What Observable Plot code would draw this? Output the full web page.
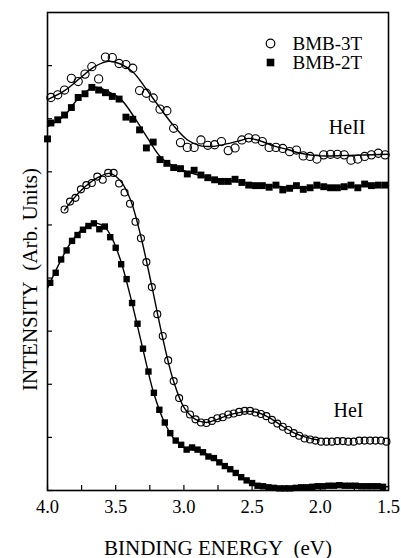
<!DOCTYPE html>
<html><head><meta charset="utf-8">
<script src="https://cdn.jsdelivr.net/npm/d3@7"></script>
<script src="https://cdn.jsdelivr.net/npm/@observablehq/plot@0.6"></script>
<style>
body{margin:0;background:#fff;}
#chart{width:401px;height:558px;}
</style></head><body><div id="chart"></div>
<script>
// ---- axis ticks ----
const xTicks = [4.0,3.75,3.5,3.25,3.0,2.75,2.5,2.25,2.0,1.75,1.5];
const xTickLabels = [4.0,3.5,3.0,2.5,2.0,1.5];
const yTicks = [0,1,2,3,4,5,6,7,8];
const xTitle = "BINDING ENERGY\u00a0 (eV)";
const yTitle = "INTENSITY\u00a0 (Arb. Units)";
const legendLabels = ["BMB-3T","BMB-2T"];
const sourceLabels = ["HeII","HeI"];

// ---- HeII, BMB-3T (open circles) ----
const heII3T_x = [3.975,3.925,3.875,3.825,3.775,3.725,3.675,3.625,3.575,3.525,3.475,3.425,3.375,3.325,3.275,3.225,3.175,3.125,3.075,3.025,2.975,2.925,2.875,2.825,2.775,2.725,2.675,2.625,2.575,2.525,2.475,2.425,2.375,2.325,2.275,2.225,2.175,2.125,2.075,2.025,1.975,1.925,1.875,1.825,1.775,1.725,1.675,1.625,1.575,1.525];
const heII3T_y = [7.40,7.45,7.54,7.76,7.70,7.84,7.98,7.75,8.16,8.15,8.04,8.02,7.95,7.53,7.48,7.39,7.18,7.15,6.82,6.55,6.46,6.46,6.60,6.50,6.51,6.57,6.40,6.45,6.60,6.64,6.62,6.57,6.46,6.46,6.44,6.38,6.41,6.30,6.29,6.24,6.32,6.33,6.33,6.32,6.22,6.24,6.29,6.32,6.35,6.32];
const heII3T_fitX = [4.0,3.875,3.758,3.655,3.553,3.465,3.37,3.274,3.171,3.076,2.973,2.878,2.783,2.68,2.585,2.526,2.438,2.343,2.24,2.145,1.999,1.80,1.5];
const heII3T_fitY = [7.36,7.53,7.77,7.98,8.08,8.03,7.87,7.55,7.19,6.87,6.60,6.49,6.48,6.53,6.59,6.63,6.58,6.49,6.42,6.35,6.30,6.31,6.33];

// ---- HeII, BMB-2T (filled squares) ----
const heII2T_x = [4.0,3.975,3.925,3.875,3.825,3.775,3.725,3.675,3.625,3.575,3.525,3.475,3.425,3.375,3.325,3.275,3.225,3.175,3.125,3.075,3.025,2.975,2.925,2.875,2.825,2.775,2.725,2.675,2.625,2.575,2.525,2.475,2.425,2.375,2.325,2.275,2.225,2.175,2.125,2.075,2.025,1.975,1.925,1.875,1.825,1.775,1.725,1.675,1.625,1.575,1.525];
const heII2T_y = [6.62,6.92,6.98,7.07,7.21,7.40,7.47,7.59,7.54,7.49,7.42,7.37,7.03,6.99,6.79,6.45,6.56,6.23,6.16,6.08,6.06,5.96,6.03,5.94,5.89,5.85,5.82,5.82,5.86,5.80,5.75,5.74,5.74,5.71,5.75,5.66,5.69,5.74,5.67,5.70,5.75,5.72,5.70,5.70,5.72,5.75,5.70,5.77,5.74,5.75,5.75];
const heII2T_fitX = [4.0,3.875,3.78,3.663,3.56,3.457,3.362,3.267,3.164,3.062,2.952,2.805,2.585,2.365,2.145,1.852,1.5];
const heII2T_fitY = [6.85,7.06,7.36,7.59,7.52,7.35,7.02,6.64,6.26,6.09,5.98,5.89,5.81,5.74,5.70,5.72,5.75];

// ---- HeI, BMB-3T (open circles) ----
const heI3T_x = [3.875,3.835,3.795,3.755,3.715,3.675,3.635,3.595,3.555,3.515,3.475,3.435,3.395,3.355,3.315,3.275,3.235,3.195,3.155,3.115,3.075,3.035,2.995,2.955,2.915,2.875,2.835,2.795,2.755,2.715,2.675,2.635,2.595,2.555,2.515,2.475,2.435,2.395,2.355,2.315,2.275,2.235,2.195,2.155,2.115,2.075,2.035,1.995,1.955,1.915,1.875,1.835,1.795,1.755,1.715,1.675,1.635,1.595,1.555,1.515];
const heI3T_y = [5.29,5.44,5.51,5.67,5.75,5.79,5.91,5.85,5.98,5.98,5.78,5.61,5.40,5.06,4.75,4.30,3.83,3.32,2.91,2.45,2.06,1.74,1.54,1.43,1.34,1.28,1.27,1.31,1.36,1.38,1.43,1.45,1.48,1.50,1.50,1.47,1.44,1.40,1.33,1.26,1.20,1.14,1.08,1.03,0.98,0.96,0.94,0.92,0.92,0.92,0.93,0.93,0.92,0.92,0.94,0.94,0.94,0.94,0.94,0.92];
const heI3T_fitX = [3.875,3.758,3.633,3.545,3.465,3.391,3.318,3.237,3.157,3.076,2.996,2.915,2.834,2.754,2.673,2.585,2.511,2.438,2.365,2.277,2.189,2.101,2.013];
const heI3T_fitY = [5.28,5.64,5.89,5.97,5.83,5.47,4.81,3.87,2.89,2.06,1.55,1.34,1.28,1.34,1.42,1.47,1.49,1.45,1.36,1.21,1.08,1.00,0.95];

// ---- HeI, BMB-2T (filled squares) ----
const heI2T_x = [3.98,3.94,3.90,3.86,3.82,3.78,3.74,3.70,3.66,3.62,3.58,3.54,3.50,3.46,3.42,3.38,3.34,3.30,3.26,3.22,3.18,3.14,3.10,3.06,3.02,2.98,2.94,2.90,2.86,2.82,2.78,2.74,2.70,2.66,2.62,2.58,2.54,2.50,2.46,2.42,2.38,2.34,2.30,2.26,2.22,2.18,2.14,2.10,2.06,2.02,1.98,1.94,1.90,1.86,1.82,1.78,1.74,1.70,1.66,1.62,1.58,1.54];
const heI2T_y = [3.91,4.10,4.35,4.52,4.70,4.81,4.91,4.98,5.03,4.92,4.97,4.77,4.57,4.26,3.98,3.53,3.14,2.67,2.24,1.84,1.52,1.28,1.08,0.94,0.86,0.77,0.81,0.77,0.72,0.64,0.61,0.53,0.46,0.40,0.33,0.25,0.19,0.14,0.09,0.08,0.06,0.05,0.04,0.04,0.04,0.05,0.06,0.06,0.07,0.08,0.08,0.09,0.09,0.10,0.09,0.09,0.09,0.08,0.08,0.08,0.08,0.07];
const heI2T_fitX = [4.0,3.905,3.831,3.758,3.685,3.633,3.582,3.538,3.465,3.391,3.304,3.223,3.142,3.062,2.981,2.878,2.768,2.658,2.548,2.438,2.292,1.999,1.5];
const heI2T_fitY = [3.81,4.32,4.66,4.89,5.01,5.03,4.96,4.81,4.34,3.64,2.70,1.85,1.28,0.94,0.79,0.74,0.58,0.40,0.21,0.09,0.05,0.08,0.07];

const rows = (xs, ys) => xs.map((x, i) => ({x, y: ys[i]}));
const serif = "Liberation Serif, Times New Roman, serif";
const fit = (xs, ys) => Plot.line(rows(xs, ys), {x: "x", y: "y", curve: "catmull-rom", stroke: "black", strokeWidth: 1.4});
const label = (t, o) => Plot.text([t], {text: d => d, fill: "black", fontFamily: serif, ...o});

const chart = Plot.plot({
  width: 401, height: 558,
  marginLeft: 47, marginRight: 13, marginTop: 12, marginBottom: 68,
  style: {fontFamily: serif, fontSize: "18px", color: "black", background: "white", overflow: "visible"},
  x: {domain: [4.0, 1.5]},
  y: {domain: [0, 9]},
  marks: [
    Plot.axisX(xTicks, {tickSize: -5, tickFormat: () => "", label: null, strokeWidth: 1.2}),
    Plot.axisX(xTickLabels, {tickSize: 0, tickPadding: 9, tickFormat: d => d.toFixed(1), label: null, fontSize: 18.5, fontFamily: serif, fill: "black"}),
    Plot.axisY(yTicks, {tickSize: -5, tickFormat: () => "", label: null, strokeWidth: 1.2}),
    Plot.frame({stroke: "black", strokeWidth: 1.6}),
    fit(heII3T_fitX, heII3T_fitY),
    fit(heII2T_fitX, heII2T_fitY),
    fit(heI3T_fitX, heI3T_fitY),
    fit(heI2T_fitX, heI2T_fitY),
    Plot.dot(rows(heII2T_x, heII2T_y), {x: "x", y: "y", symbol: "square", r: 3.9, fill: "black"}),
    Plot.dot(rows(heI2T_x, heI2T_y), {x: "x", y: "y", symbol: "square", r: 3.6, fill: "black"}),
    Plot.dot(rows(heII3T_x, heII3T_y), {x: "x", y: "y", r: 4.1, stroke: "black", fill: "none", strokeWidth: 1.1}),
    Plot.dot(rows(heI3T_x, heI3T_y), {x: "x", y: "y", r: 3.5, stroke: "black", fill: "none", strokeWidth: 1.1}),
    // legend
    Plot.dot([legendLabels[0]], {frameAnchor: "top-right", dx: -118, dy: 31, r: 4.3, stroke: "black", fill: "none", strokeWidth: 1.2}),
    Plot.dot([legendLabels[1]], {frameAnchor: "top-right", dx: -118, dy: 50, r: 4.3, symbol: "square", fill: "black"}),
    label(legendLabels[0], {frameAnchor: "top-right", dx: -96, dy: 31, textAnchor: "start", lineAnchor: "middle", fontSize: 19}),
    label(legendLabels[1], {frameAnchor: "top-right", dx: -96, dy: 50, textAnchor: "start", lineAnchor: "middle", fontSize: 19}),
    // spectrum source labels
    label(sourceLabels[0], {frameAnchor: "top-right", dx: -23, dy: 115, textAnchor: "end", lineAnchor: "middle", fontSize: 20}),
    label(sourceLabels[1], {frameAnchor: "top-right", dx: -25, dy: 398, textAnchor: "end", lineAnchor: "middle", fontSize: 20}),
    // axis titles
    label(xTitle, {frameAnchor: "bottom", dy: 64, textAnchor: "middle", lineAnchor: "bottom", fontSize: 21}),
    label(yTitle, {frameAnchor: "left", dx: -17, dy: 28, rotate: -90, textAnchor: "middle", lineAnchor: "middle", fontSize: 21})
  ]
});
document.getElementById("chart").appendChild(chart);
</script>
</body></html>
